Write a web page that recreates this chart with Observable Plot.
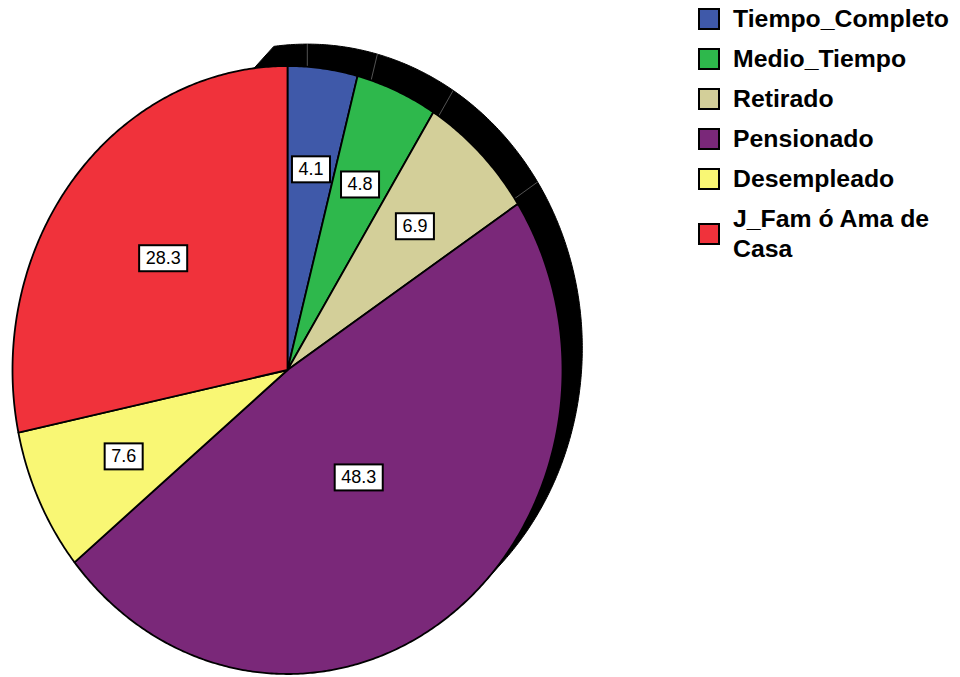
<!DOCTYPE html>
<html>
<head>
<meta charset="utf-8">
<script src="https://cdn.jsdelivr.net/npm/d3@7"></script>
<script src="https://cdn.jsdelivr.net/npm/@observablehq/plot@0.6"></script>
<style>
  html, body { margin: 0; padding: 0; background: #fff; }
  #wrap { position: relative; width: 960px; height: 677px; overflow: hidden; }
  #legend { position: absolute; left: 698px; top: -1px; font-family: "Liberation Sans", Arial, sans-serif; font-weight: bold; font-size: 24.8px; color: #000; }
  .row { display: flex; align-items: center; padding: 5px 0; line-height: 30px; }
  .sw { width: 22px; height: 22px; box-sizing: border-box; border: 2px solid #000; flex: none; margin-right: 13px; }
  .lab { max-width: 224px; }
</style>
</head>
<body>
<div id="wrap"><div id="legend"></div></div>
<script>
const categories = ["Tiempo_Completo", "Medio_Tiempo", "Retirado", "Pensionado", "Desempleado", "J_Fam ó Ama de Casa"];
const values = [4.1, 4.8, 6.9, 48.3, 7.6, 28.3];
const labels = ["4.1", "4.8", "6.9", "48.3", "7.6", "28.3"];
const colors = ["#3F59A9", "#2EB84C", "#D3CF99", "#7A2879", "#F9F774", "#F0323B"];

const depth = 0.072;                    // 3D extrusion offset (normalized units)
const wallStart = -7 * Math.PI / 180;   // visible side wall angular span
const wallEnd = 135 * Math.PI / 180;

const arcs = d3.pie().sort(null).value(d => d)(values);
const step = Math.PI / 360;

function slicePoints() {
  const pts = [];
  arcs.forEach((a, i) => {
    const name = categories[i];
    pts.push({name, x: 0, y: 0});
    const n = Math.max(2, Math.ceil((a.endAngle - a.startAngle) / step));
    for (let k = 0; k <= n; k++) {
      const t = a.startAngle + (a.endAngle - a.startAngle) * k / n;
      pts.push({name, x: Math.sin(t), y: Math.cos(t)});
    }
    pts.push({name, x: 0, y: 0});
  });
  return pts;
}

function wallPoints() {
  const pts = [];
  const n = Math.ceil((wallEnd - wallStart) / step);
  for (let k = 0; k <= n; k++) {
    const t = wallStart + (wallEnd - wallStart) * k / n;
    pts.push({x: Math.sin(t), y: Math.cos(t)});
  }
  for (let k = n; k >= 0; k--) {
    const t = wallStart + (wallEnd - wallStart) * k / n;
    pts.push({x: depth + Math.sin(t), y: depth + Math.cos(t)});
  }
  pts.push(pts[0]);
  return pts;
}

const front = slicePoints();
const wall = wallPoints();
const edges = arcs.map(a => ({
  x1: depth, y1: depth,
  x2: depth + Math.sin(a.startAngle), y2: depth + Math.cos(a.startAngle)
})).filter(e => {
  const a = Math.atan2(e.x2 - depth, e.y2 - depth);
  return a >= wallStart && a <= wallEnd;
});
const cents = arcs.map((a, i) => {
  const h = (a.endAngle - a.startAngle) / 2;
  const r = (2 / 3) * Math.sin(h) / h;
  const m = a.startAngle + h;
  return {x: r * Math.sin(m), y: r * Math.cos(m), label: labels[i]};
});

const chart = Plot.plot({
  width: 960,
  height: 677,
  margin: 0,
  x: {domain: [-1, 1], range: [12, 562], axis: null},
  y: {domain: [-1, 1], range: [673.5, 65.5], axis: null},
  color: {domain: categories, range: colors},
  style: {background: "transparent", overflow: "visible"},
  marks: [
    Plot.line(wall, {x: "x", y: "y", fill: "black", stroke: "black", strokeWidth: 1, curve: "linear"}),
    Plot.link(edges, {x1: "x1", y1: "y1", x2: "x2", y2: "y2", stroke: "#777", strokeWidth: 0.7}),
    Plot.line(front, {x: "x", y: "y", z: "name", fill: "name", stroke: "black", strokeWidth: 1.8, strokeLinejoin: "round", curve: "linear"}),
    Plot.text(cents, {x: "x", y: "y", text: "label", fontSize: 18, fill: "black", fontFamily: "Liberation Sans, Arial, sans-serif"})
  ]
});

document.getElementById("wrap").prepend(chart);

// white boxes behind the value labels
chart.querySelectorAll('g[aria-label="text"] text').forEach(t => {
  const b = t.getBBox();
  const w = b.width + 13, h = 26;
  const cx = b.x + b.width / 2, cy = b.y + b.height / 2;
  const r = document.createElementNS("http://www.w3.org/2000/svg", "rect");
  r.setAttribute("x", cx - w / 2);
  r.setAttribute("y", cy - h / 2);
  r.setAttribute("width", w);
  r.setAttribute("height", h);
  r.setAttribute("fill", "white");
  r.setAttribute("stroke", "black");
  r.setAttribute("stroke-width", 2);
  if (t.getAttribute("transform")) r.setAttribute("transform", t.getAttribute("transform"));
  t.parentNode.insertBefore(r, t);
});

// legend
const legend = document.getElementById("legend");
categories.forEach((c, i) => {
  const row = document.createElement("div");
  row.className = "row";
  const sw = document.createElement("div");
  sw.className = "sw";
  sw.style.background = colors[i];
  const lab = document.createElement("div");
  lab.className = "lab";
  lab.textContent = c;
  row.append(sw, lab);
  legend.append(row);
});
</script>
</body>
</html>
